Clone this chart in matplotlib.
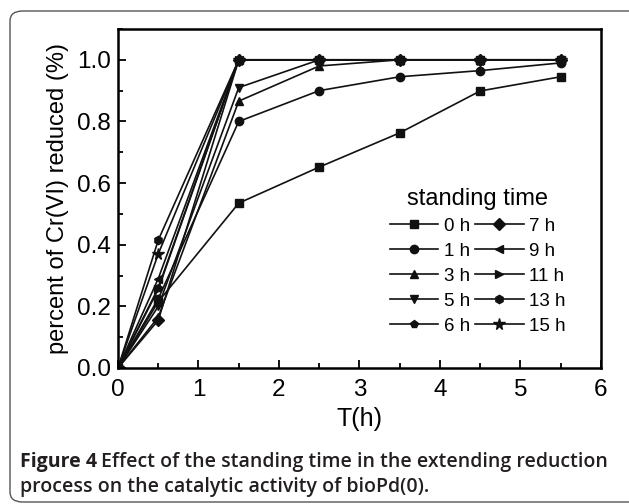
import matplotlib
matplotlib.use("Agg")
import matplotlib.pyplot as plt
from matplotlib.patches import FancyBboxPatch
from matplotlib.ticker import MultipleLocator

plt.rcParams['font.family'] = ['Liberation Sans', 'DejaVu Sans']

t = [0, 0.5, 1.5, 2.5, 3.5, 4.5, 5.5]
labels = ['0 h', '1 h', '3 h', '5 h', '6 h', '7 h', '9 h', '11 h', '13 h', '15 h']
markers = ['s', 'o', '^', 'v', 'p', 'D', '<', '>', 'h', '*']
y0 = [0, 0.215, 0.535, 0.652, 0.763, 0.899, 0.945]
y1 = [0, 0.225, 0.800, 0.900, 0.945, 0.965, 0.990]
y3 = [0, 0.165, 0.866, 0.980, 1.0, 1.0, 1.0]
y5 = [0, 0.200, 0.910, 1.0, 1.0, 1.0, 1.0]
y6 = [0, 0.260, 1.0, 1.0, 1.0, 1.0, 1.0]
y7 = [0, 0.155, 1.0, 1.0, 1.0, 1.0, 1.0]
y9 = [0, 0.290, 1.0, 1.0, 1.0, 1.0, 1.0]
y11 = [0, 0.255, 1.0, 1.0, 1.0, 1.0, 1.0]
y13 = [0, 0.415, 1.0, 1.0, 1.0, 1.0, 1.0]
y15 = [0, 0.370, 1.0, 1.0, 1.0, 1.0, 1.0]
series = [y0, y1, y3, y5, y6, y7, y9, y11, y13, y15]

fig = plt.figure(figsize=(6.29, 5.04), dpi=100)
W, H = 629, 504

# rounded frame around figure and caption
box = FancyBboxPatch((10 / W, 2 / H), 640 / W, 491 / H, boxstyle="round,pad=0,rounding_size=0.02",
                     transform=fig.transFigure, fill=False, edgecolor='#555555', linewidth=1.0)
fig.patches.append(box)

ax = fig.add_axes([118 / W, 1 - 368 / H, (601 - 118) / W, (368 - 29) / H])
for y, m, lab in zip(series, markers, labels):
    ms = 8.5 if m == '*' else 6
    ax.plot(t, y, color='#111111', marker=m, markersize=ms, linewidth=1.2, label=lab)

ax.set_xlim(0, 6)
ax.set_ylim(0, 1.1)
ax.xaxis.set_major_locator(MultipleLocator(1))
ax.xaxis.set_minor_locator(MultipleLocator(0.5))
ax.yaxis.set_minor_locator(MultipleLocator(0.1))
ax.set_yticks([0, 0.2, 0.4, 0.6, 0.8, 1.0])
ax.set_yticklabels(['0.0', '0.2', '0.4', '0.6', '0.8', '1.0'])
ax.tick_params(which='both', direction='in', top=False, right=False, width=1.3, labelsize=17.5)
ax.tick_params(which='major', length=6)
ax.tick_params(which='minor', length=3.5)
ax.tick_params(axis='x', pad=8)
ax.tick_params(axis='y', pad=5)
for s in ax.spines.values():
    s.set_linewidth(1.8)
ax.set_xlabel('T(h)', fontsize=18, labelpad=4)
ax.set_ylabel('percent of Cr(VI) reduced (%)', fontsize=17, labelpad=6)

leg = ax.legend(ncol=2, frameon=False, title='standing time', fontsize=13.5, title_fontsize=17,
                loc='center', bbox_to_anchor=(0.745, 0.315), handlelength=2.6, handletextpad=0.3,
                columnspacing=0.25, labelspacing=0.42)

fig.canvas.draw()
r = fig.canvas.get_renderer()
cap_color = '#231f20'
t1 = fig.text(20 / W, 1 - 467 / H, 'Figure 4', fontsize=14, fontweight='bold', family='Open Sans',
              color=cap_color, va='baseline')
bb = t1.get_window_extent(r)
fig.text(bb.x1 / W + 4 / W, 1 - 467 / H, 'Effect of the standing time in the extending reduction',
         fontsize=14, fontweight='semibold', family='Open Sans', color=cap_color, va='baseline')
fig.text(20 / W, 1 - 492 / H, 'process on the catalytic activity of bioPd(0).', fontsize=14,
         fontweight='semibold', family='Open Sans', color=cap_color, va='baseline')

fig.savefig('out.png', dpi=100)
